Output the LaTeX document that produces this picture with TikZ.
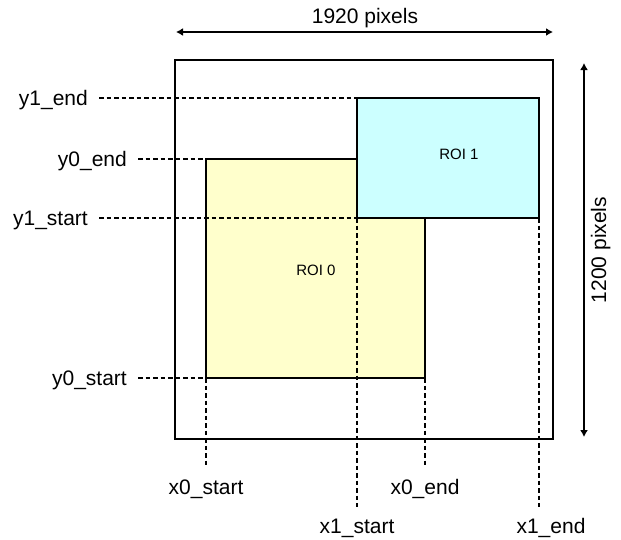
\documentclass[tikz,border=0pt]{standalone}
\usepackage{fontspec}
\setmainfont{Liberation Sans}
\usetikzlibrary{arrows.meta}
\definecolor{roiyellow}{HTML}{FFFFCC}
\definecolor{roicyan}{HTML}{CCFFFF}
\begin{document}
\begin{tikzpicture}[x=1pt,y=-1pt,
  frameline/.style={line width=1.6pt},
  roibox/.style={line width=1.6pt, draw=black},
  guide/.style={line width=1.1pt, dash pattern=on 4.5pt off 3pt},
  dimarrow/.style={line width=1.6pt, {Latex[length=7pt,width=8pt]}-{Latex[length=7pt,width=8pt]}},
  bigtext/.style={font=\fontsize{21}{25}\selectfont},
  roitext/.style={font=\fontsize{15}{18}\selectfont, inner sep=0pt},
  ylabel/.style={bigtext, anchor=east, text height=15pt, text depth=0pt, inner ysep=0pt, inner xsep=11pt},
  xlabel/.style={bigtext, anchor=north, text height=15pt, text depth=0pt, inner ysep=11.5pt, inner xsep=0pt},
]
\useasboundingbox (0,0) rectangle (621,539);

% frame
\coordinate (fTL) at (175,60);
\coordinate (fBR) at (553,439);
\draw[frameline] (fTL) rectangle (fBR);

% ROI corners
\coordinate (r0tl) at (206,159);
\coordinate (r0br) at (425,378);
\coordinate (r0bl) at (206,378);
\coordinate (r1tl) at (357,98);
\coordinate (r1br) at (539,218);
\coordinate (r1bl) at (357,218);

\draw[roibox, fill=roiyellow] (r0tl) rectangle (r0br);
\draw[roibox, fill=roicyan] (r1tl) rectangle (r1br);

\node[roitext] (t0) at (316,270) {ROI 0};
\node[roitext] (t1) at (459,154) {ROI 1};

% left labels
\node[ylabel] (ly1e) at (99,98) {y1\_end};
\node[ylabel] (ly0e) at (138,159) {y0\_end};
\node[ylabel] (ly1s) at (99,218) {y1\_start};
\node[ylabel] (ly0s) at (138,378) {y0\_start};

\draw[guide] (ly1e.east) -- (r1tl);
\draw[guide] (ly0e.east) -- (r0tl);
\draw[guide] (ly1s.east) -- (r1bl);
\draw[guide] (ly0s.east) -- (r0bl);

% bottom labels
\node[xlabel] (lx0s) at (206,468) {x0\_start};
\node[xlabel] (lx0e) at (425,468) {x0\_end};
\node[xlabel] (lx1s) at (357,507) {x1\_start};
\node[xlabel] (lx1e) at (551,507) {x1\_end};

\draw[guide] (r0bl) -- (lx0s.north);
\draw[guide] (r0br) -- (lx0e.north);
\draw[guide] (r1bl) -- (lx1s.north);
\draw[guide] (r1br) -- (r1br |- lx1e.north);

% dimension arrows
\coordinate (ha) at (176,32);
\coordinate (hb) at (553,32);
\draw[dimarrow] (ha) -- (hb);
\node[bigtext, anchor=base] (hlab) at (365,23) {1920 pixels};

\coordinate (va) at (584,63);
\coordinate (vb) at (584,437);
\draw[dimarrow] (va) -- (vb);
\node[bigtext, anchor=base, rotate=90] (vlab) at (606,250) {1200 pixels};
\end{tikzpicture}
\end{document}
